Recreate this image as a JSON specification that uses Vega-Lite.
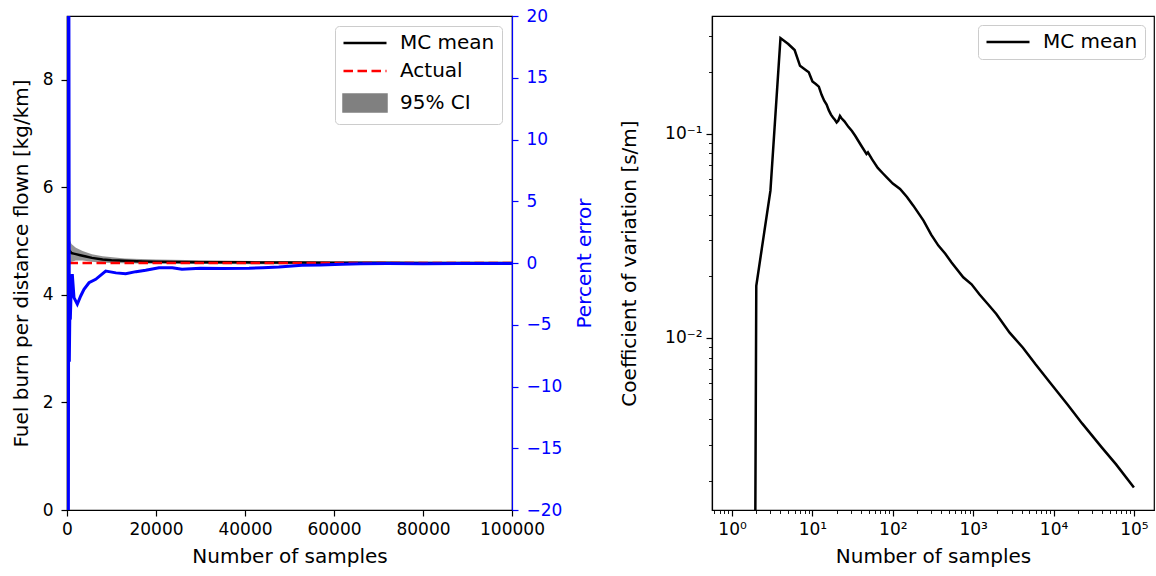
{
  "$schema": "https://vega.github.io/schema/vega-lite/v6.json",
  "padding": {"left": 10, "top": 6, "right": 3, "bottom": 5},
  "background": "white",
  "spacing": 200,
  "bounds": "flush",
  "datasets": {
    "band": [
      {"n": 100, "lo": 4.45, "hi": 5.45},
      {"n": 300, "lo": 4.55, "hi": 5.15},
      {"n": 600, "lo": 4.6, "hi": 5.03},
      {"n": 1000, "lo": 4.62, "hi": 4.95},
      {"n": 2000, "lo": 4.64, "hi": 4.88},
      {"n": 3500, "lo": 4.64, "hi": 4.82},
      {"n": 5600, "lo": 4.62, "hi": 4.76},
      {"n": 8000, "lo": 4.6, "hi": 4.72},
      {"n": 13000, "lo": 4.59, "hi": 4.68},
      {"n": 20000, "lo": 4.58, "hi": 4.66},
      {"n": 30000, "lo": 4.575, "hi": 4.645},
      {"n": 45000, "lo": 4.57, "hi": 4.63},
      {"n": 60000, "lo": 4.575, "hi": 4.625},
      {"n": 80000, "lo": 4.575, "hi": 4.62},
      {"n": 100000, "lo": 4.58, "hi": 4.615}
    ],
    "mean": [
      {"n": 100, "fb": 4.95},
      {"n": 300, "fb": 4.85},
      {"n": 600, "fb": 4.82},
      {"n": 1000, "fb": 4.78},
      {"n": 1500, "fb": 4.77},
      {"n": 2000, "fb": 4.76},
      {"n": 3000, "fb": 4.74},
      {"n": 4000, "fb": 4.72},
      {"n": 5600, "fb": 4.69},
      {"n": 8000, "fb": 4.66},
      {"n": 10000, "fb": 4.645},
      {"n": 13000, "fb": 4.635},
      {"n": 17000, "fb": 4.625},
      {"n": 20000, "fb": 4.62},
      {"n": 25000, "fb": 4.615},
      {"n": 30000, "fb": 4.61},
      {"n": 40000, "fb": 4.607},
      {"n": 50000, "fb": 4.605},
      {"n": 60000, "fb": 4.6},
      {"n": 70000, "fb": 4.598},
      {"n": 80000, "fb": 4.597},
      {"n": 90000, "fb": 4.597},
      {"n": 100000, "fb": 4.597}
    ],
    "actual": [{"fb": 4.595}],
    "pct": [
      {"n": 50, "err": -25},
      {"n": 150, "err": 25},
      {"n": 300, "err": -25},
      {"n": 420, "err": 22},
      {"n": 520, "err": -8},
      {"n": 620, "err": -4.6},
      {"n": 750, "err": -4.5},
      {"n": 870, "err": -3.0},
      {"n": 1000, "err": -1.5},
      {"n": 1190, "err": -0.9},
      {"n": 1573, "err": -2.81},
      {"n": 2315, "err": -3.34},
      {"n": 3080, "err": -2.67},
      {"n": 3820, "err": -2.13},
      {"n": 4940, "err": -1.6},
      {"n": 6450, "err": -1.32},
      {"n": 8700, "err": -0.65},
      {"n": 9440, "err": -0.7},
      {"n": 11000, "err": -0.8},
      {"n": 13190, "err": -0.87},
      {"n": 15500, "err": -0.7},
      {"n": 17680, "err": -0.59},
      {"n": 20670, "err": -0.38},
      {"n": 23660, "err": -0.38},
      {"n": 25840, "err": -0.51},
      {"n": 30000, "err": -0.42},
      {"n": 35000, "err": -0.45},
      {"n": 40900, "err": -0.43},
      {"n": 44000, "err": -0.38},
      {"n": 47600, "err": -0.32},
      {"n": 52800, "err": -0.19},
      {"n": 57000, "err": -0.17},
      {"n": 61800, "err": -0.1},
      {"n": 66000, "err": -0.06},
      {"n": 72000, "err": -0.05},
      {"n": 80000, "err": -0.06},
      {"n": 88000, "err": -0.05},
      {"n": 95000, "err": -0.04},
      {"n": 100000, "err": -0.04}
    ],
    "cv": [
      {"n": 1, "cv": 1e-30},
      {"n": 2, "cv": 0.018},
      {"n": 3, "cv": 0.0526},
      {"n": 4, "cv": 0.294},
      {"n": 5, "cv": 0.275},
      {"n": 6, "cv": 0.257},
      {"n": 7, "cv": 0.215},
      {"n": 8, "cv": 0.207},
      {"n": 9, "cv": 0.2},
      {"n": 10, "cv": 0.18},
      {"n": 11, "cv": 0.175},
      {"n": 12, "cv": 0.17},
      {"n": 13, "cv": 0.155},
      {"n": 14, "cv": 0.145},
      {"n": 15, "cv": 0.139},
      {"n": 16, "cv": 0.13},
      {"n": 17, "cv": 0.124},
      {"n": 18, "cv": 0.12},
      {"n": 19, "cv": 0.117},
      {"n": 20, "cv": 0.1135},
      {"n": 21, "cv": 0.116},
      {"n": 22, "cv": 0.122},
      {"n": 23, "cv": 0.119},
      {"n": 25, "cv": 0.115},
      {"n": 28, "cv": 0.108},
      {"n": 31, "cv": 0.103},
      {"n": 34, "cv": 0.0977},
      {"n": 40, "cv": 0.088},
      {"n": 47, "cv": 0.0795},
      {"n": 49, "cv": 0.081},
      {"n": 55, "cv": 0.075},
      {"n": 65, "cv": 0.068},
      {"n": 75, "cv": 0.064},
      {"n": 84, "cv": 0.0611},
      {"n": 100, "cv": 0.057},
      {"n": 123, "cv": 0.0536},
      {"n": 150, "cv": 0.049},
      {"n": 180, "cv": 0.0444},
      {"n": 241, "cv": 0.0375},
      {"n": 300, "cv": 0.032},
      {"n": 369, "cv": 0.0283},
      {"n": 450, "cv": 0.0258},
      {"n": 538, "cv": 0.0234},
      {"n": 752, "cv": 0.0198},
      {"n": 955, "cv": 0.0183},
      {"n": 1200, "cv": 0.0163},
      {"n": 1530, "cv": 0.0146},
      {"n": 1940, "cv": 0.0131},
      {"n": 2840, "cv": 0.0106},
      {"n": 4160, "cv": 0.00895},
      {"n": 6000, "cv": 0.0074},
      {"n": 8870, "cv": 0.0061},
      {"n": 15000, "cv": 0.0047},
      {"n": 22800, "cv": 0.0038},
      {"n": 40000, "cv": 0.0029},
      {"n": 60000, "cv": 0.0024},
      {"n": 100000, "cv": 0.00185}
    ]
  },
  "hconcat": [
    {
      "width": 445,
      "height": 494,
      "layer": [
        {
          "layer": [
            {
              "data": {"name": "band"},
              "mark": {"type": "area", "opacity": 0.85, "clip": true},
              "encoding": {
                "x": {
                  "field": "n", "type": "quantitative",
                  "scale": {"domain": [0, 100000], "nice": false, "zero": false},
                  "axis": {"title": "Number of samples", "values": [0, 20000, 40000, 60000, 80000, 100000], "format": "d", "titlePadding": 9}
                },
                "y": {
                  "field": "lo", "type": "quantitative",
                  "scale": {"domain": [0, 9.19], "nice": false, "zero": false},
                  "axis": {"title": "Fuel burn per distance flown [kg/km]", "values": [0, 2, 4, 6, 8], "format": "d", "labelPadding": 8, "titlePadding": 11}
                },
                "y2": {"field": "hi"},
                "color": {
                  "datum": "95% CI", "type": "nominal",
                  "scale": {"domain": ["MC mean", "Actual", "95% CI"], "range": ["black", "red", "#808080"]},
                  "legend": {
                    "title": null,
                    "orient": "top-right",
                    "offset": 10,
                    "fillColor": "white",
                    "strokeColor": "#cccccc",
                    "cornerRadius": 4,
                    "padding": 7,
                    "labelFont": "DejaVu Sans",
                    "labelFontSize": 20,
                    "labelColor": "black",
                    "symbolSize": 296,
                    "symbolOffset": 13,
                    "labelOffset": 25,
                    "rowPadding": 8,
                    "encoding": {
                      "symbols": {
                        "shape": {"condition": {"test": "datum.value === '95% CI'", "value": "M-2.5,-1H2.5V1H-2.5Z"}, "value": "M-2.5,0H2.5"},
                        "fill": {"condition": {"test": "datum.value === '95% CI'", "value": "#808080"}, "value": "transparent"},
                        "stroke": {"condition": [{"test": "datum.value === 'Actual'", "value": "red"}, {"test": "datum.value === 'MC mean'", "value": "black"}], "value": "transparent"},
                        "strokeDash": {"condition": {"test": "datum.value === 'Actual'", "value": [9.5, 4.5]}, "value": [1, 0]},
                        "strokeWidth": {"value": 2.5},
                        "opacity": {"value": 1},
                        "size": {"value": 296}
                      }
                    }
                  }
                }
              }
            },
            {
              "data": {"name": "mean"},
              "mark": {"type": "line", "strokeWidth": 2.5, "clip": true},
              "encoding": {
                "x": {"field": "n", "type": "quantitative"},
                "y": {"field": "fb", "type": "quantitative"},
                "color": {"datum": "MC mean", "type": "nominal"}
              }
            },
            {
              "data": {"name": "actual"},
              "mark": {"type": "rule", "strokeWidth": 2.5, "strokeDash": [9.5, 4.5]},
              "encoding": {
                "y": {"field": "fb", "type": "quantitative"},
                "color": {"datum": "Actual", "type": "nominal"}
              }
            }
          ]
        },
        {
          "data": {"name": "pct"},
          "mark": {"type": "line", "strokeWidth": 3, "color": "blue", "clip": true},
          "encoding": {
            "x": {"field": "n", "type": "quantitative"},
            "y": {
              "field": "err", "type": "quantitative",
              "scale": {"domain": [-20, 20], "nice": false, "zero": false},
              "axis": {
                "orient": "right", "title": "Percent error", "titleAngle": 270,
                "values": [-20, -15, -10, -5, 0, 5, 10, 15, 20], "format": "d",
                "labelExpr": "replace(datum.label, '-', '\u2212')",
                "labelPadding": 8, "titlePadding": 33,
                "labelColor": "blue", "titleColor": "blue", "tickColor": "blue", "domainColor": "blue"
              }
            }
          }
        }
      ],
      "resolve": {"scale": {"y": "independent"}}
    },
    {
      "width": 442,
      "height": 494,
      "data": {"name": "cv"},
      "mark": {"type": "line", "strokeWidth": 2.5, "clip": true},
      "encoding": {
        "x": {
          "field": "n", "type": "quantitative",
          "scale": {"type": "log", "domain": [0.5623, 177828], "nice": false},
          "axis": {
            "title": "Number of samples",
            "titlePadding": 9,
            "values": [0.6, 0.7, 0.8, 0.9, 1, 2, 3, 4, 5, 6, 7, 8, 9, 10, 20, 30, 40, 50, 60, 70, 80, 90, 100, 200, 300, 400, 500, 600, 700, 800, 900, 1000, 2000, 3000, 4000, 5000, 6000, 7000, 8000, 9000, 10000, 20000, 30000, 40000, 50000, 60000, 70000, 80000, 90000, 100000],
            "labelExpr": "datum.value === 1 ? '10\u2070' : datum.value === 10 ? '10\u00b9' : datum.value === 100 ? '10\u00b2' : datum.value === 1000 ? '10\u00b3' : datum.value === 10000 ? '10\u2074' : datum.value === 100000 ? '10\u2075' : ''",
            "tickSize": {"condition": {"test": "indexof([1, 10, 100, 1000, 10000, 100000], datum.value) >= 0", "value": 6}, "value": 3.5},
            "tickWidth": {"condition": {"test": "indexof([1, 10, 100, 1000, 10000, 100000], datum.value) >= 0", "value": 1.2}, "value": 0.9}
          }
        },
        "y": {
          "field": "cv", "type": "quantitative",
          "scale": {"type": "log", "domain": [0.001435, 0.377], "nice": false},
          "axis": {
            "title": "Coefficient of variation [s/m]",
            "labelPadding": 4,
            "titlePadding": 25,
            "values": [0.002, 0.003, 0.004, 0.005, 0.006, 0.007, 0.008, 0.009, 0.01, 0.02, 0.03, 0.04, 0.05, 0.06, 0.07, 0.08, 0.09, 0.1, 0.2, 0.3],
            "labelExpr": "datum.value === 0.1 ? '10\u207b\u00b9' : datum.value === 0.01 ? '10\u207b\u00b2' : ''",
            "tickSize": {"condition": {"test": "datum.value === 0.1 || datum.value === 0.01", "value": 6}, "value": 3.5},
            "tickWidth": {"condition": {"test": "datum.value === 0.1 || datum.value === 0.01", "value": 1.2}, "value": 0.9}
          }
        },
        "color": {
          "datum": "MC mean", "type": "nominal",
          "scale": {"domain": ["MC mean"], "range": ["black"]},
          "legend": {
            "title": null,
            "orient": "top-right",
            "offset": 9,
            "fillColor": "white",
            "strokeColor": "#cccccc",
            "cornerRadius": 4,
            "padding": 7,
            "labelFont": "DejaVu Sans",
            "labelFontSize": 20,
            "labelColor": "black",
            "symbolSize": 296,
            "symbolOffset": 13,
            "labelOffset": 25,
            "encoding": {
              "symbols": {
                "shape": {"value": "M-2.5,0H2.5"},
                "fill": {"value": "transparent"},
                "stroke": {"value": "black"},
                "strokeWidth": {"value": 2.5},
                "size": {"value": 296}
              }
            }
          }
        }
      }
    }
  ],
  "resolve": {"scale": {"color": "independent"}, "legend": {"color": "independent"}},
  "config": {
    "font": "DejaVu Sans",
    "view": {"stroke": "black", "strokeWidth": 1.2},
    "axis": {
      "grid": false,
      "labelFont": "DejaVu Sans",
      "labelFontSize": 17,
      "labelColor": "black",
      "titleFont": "DejaVu Sans",
      "titleFontSize": 20,
      "titleFontWeight": "normal",
      "titleColor": "black",
      "domainColor": "black",
      "domainWidth": 1.2,
      "tickColor": "black",
      "tickSize": 6,
      "tickWidth": 1.2,
      "labelPadding": 5,
      "titlePadding": 6,
      "labelFlush": false,
      "labelOverlap": false,
      "labelBound": false
    }
  }
}
